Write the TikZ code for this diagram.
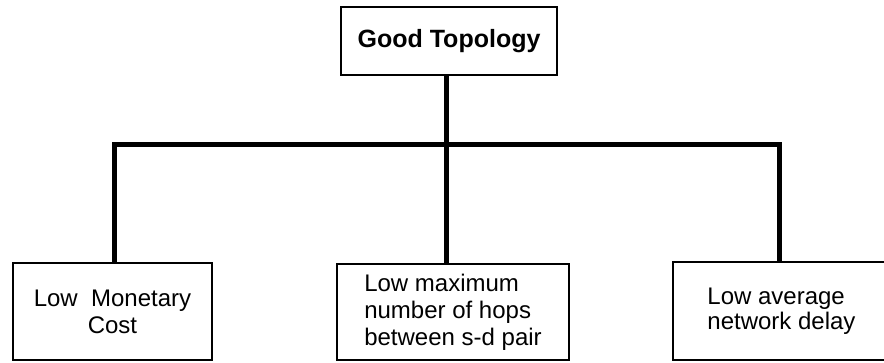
\documentclass[tikz,border=0pt]{standalone}
\usepackage{fontspec}
\setmainfont{Liberation Sans}
\begin{document}
\begin{tikzpicture}[x=1pt,y=-1pt,
  box/.style={draw=black, line width=2.5pt, rectangle, inner sep=0pt, fill=white},
  subtxt/.style={font=\fontsize{24}{27}\selectfont},
  conn/.style={draw=black, line width=5pt, line join=miter, line cap=rect}]
\useasboundingbox[fill=white] (0,0) rectangle (884,362);
\node[box, minimum width=216pt, minimum height=68pt, font=\fontsize{25}{30}\selectfont\bfseries]
  (top) at (449,41) {Good Topology};
\node[box, subtxt, minimum width=199pt, minimum height=97pt, align=center]
  (lowcost) at (112.5,311.5) {Low\ \ Monetary\\Cost};
\node[box, subtxt, minimum width=232pt, minimum height=96pt, align=left]
  (hops) at (453,312) {Low maximum\\number of hops\\between s-d pair};
\node[box, minimum width=217pt, minimum height=98pt, align=left,
  font=\fontsize{24}{25}\selectfont]
  (delay) at (781.5,311) {Low average\\network delay};
\coordinate (busL) at (114.5,144.5);
\coordinate (busM) at (446,144.5);
\coordinate (busR) at (779,144.5);
\draw[conn] (busL |- lowcost.north) -- (busL) -- (busR) -- (busR |- delay.north);
\draw[conn] (busM |- top.south) -- (busM |- hops.north);
\end{tikzpicture}
\end{document}
